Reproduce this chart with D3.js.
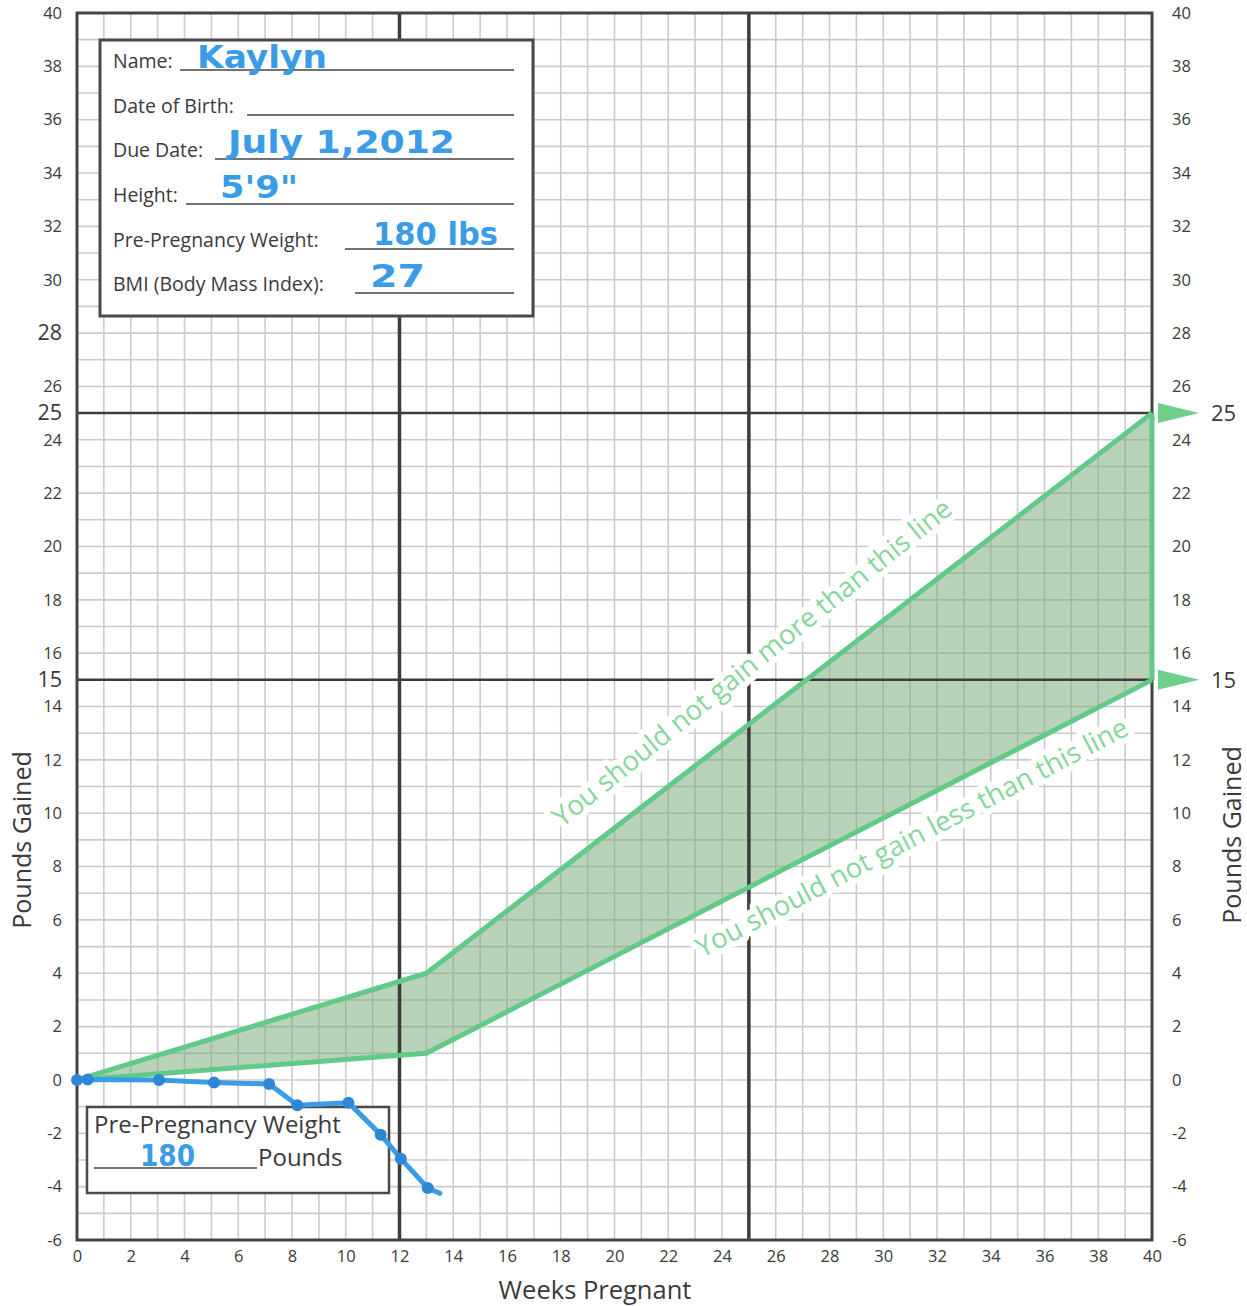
<!DOCTYPE html>
<html><head><meta charset="utf-8">
<script src="https://cdn.jsdelivr.net/npm/d3@7"></script>
<style>body{margin:0;background:#fff} svg{display:block}</style>
</head><body>
<svg id="c" width="1247" height="1306"></svg>
<script>
// ---- data ----
const weeks = [0, 0.4, 3.05, 5.1, 7.15, 8.2, 10.1, 11.3, 12.05, 13.05, 13.5];
const poundsGained = [0, 0.02, 0, -0.1, -0.15, -0.95, -0.85, -2.05, -2.95, -4.05, -4.25];
const guideWeeks = [0, 13, 40];
const upperLimit = [0, 4, 25];
const lowerLimit = [0, 1, 15];
const leftTicks = [40, 38, 36, 34, 32, 30, 28, 26, 25, 24, 22, 20, 18, 16, 15, 14, 12, 10, 8, 6, 4, 2, 0, -2, -4, -6];
const bigLeftTicks = [28, 25, 15];
const rightTicks = [40, 38, 36, 34, 32, 30, 28, 26, 24, 22, 20, 18, 16, 14, 12, 10, 8, 6, 4, 2, 0, -2, -4, -6];
const xTicks = [0, 2, 4, 6, 8, 10, 12, 14, 16, 18, 20, 22, 24, 26, 28, 30, 32, 34, 36, 38, 40];
const majorWeeks = [12, 25];
const majorPounds = [25, 15];
const targetMarkers = [25, 15];
const infoLabels = ["Name:", "Date of Birth:", "Due Date:", "Height:", "Pre-Pregnancy Weight:", "BMI (Body Mass Index):"];
const infoValues = ["Kaylyn", "", "July 1,2012", "5'9\"", "180 lbs", "27"];
const prePregWeight = "180";
const upperText = "You should not gain more than this line";
const lowerText = "You should not gain less than this line";

// ---- layout ----
const svg = d3.select("#c");
const FONT = "'Open Sans', 'Noto Sans', sans-serif";
const HAND = "'DejaVu Sans Condensed', 'DejaVu Sans', sans-serif";
const x = d3.scaleLinear().domain([0, 40]).range([77, 1152]);
const y = d3.scaleLinear().domain([-6, 40]).range([1240, 13]);
const txtCol = "#3a3a3a";
const green = "#62ca88";
const blue = "#3a9be6";
const fmt = d => String(d);

// minor grid
const g = svg.append("g");
g.selectAll("line.vx").data(d3.range(1, 40)).join("line")
  .attr("x1", d => x(d)).attr("x2", d => x(d)).attr("y1", y(40)).attr("y2", y(-6))
  .attr("stroke", "#cbcbcb").attr("stroke-width", 1.6);
g.selectAll("line.hy").data(d3.range(-5, 40)).join("line")
  .attr("y1", d => y(d)).attr("y2", d => y(d)).attr("x1", x(0)).attr("x2", x(40))
  .attr("stroke", "#cbcbcb").attr("stroke-width", 1.6);

// green band
const band = guideWeeks.map((w, i) => [x(w), y(upperLimit[i])])
  .concat(guideWeeks.map((w, i) => [x(w), y(lowerLimit[i])]).reverse());
svg.append("path").attr("d", "M" + band.join("L") + "Z")
  .attr("fill", "#74a676").attr("fill-opacity", 0.5);

// major lines
svg.selectAll("line.mx").data(majorWeeks).join("line")
  .attr("x1", d => x(d)).attr("x2", d => x(d)).attr("y1", y(40)).attr("y2", y(-6))
  .attr("stroke", "#3c3c3c").attr("stroke-width", 3.5);
svg.selectAll("line.my").data(majorPounds).join("line")
  .attr("y1", d => y(d)).attr("y2", d => y(d)).attr("x1", x(0)).attr("x2", x(40))
  .attr("stroke", "#3c3c3c").attr("stroke-width", 2.5);
// frame
svg.append("rect").attr("x", x(0)).attr("y", y(40)).attr("width", x(40) - x(0)).attr("height", y(-6) - y(40))
  .attr("fill", "none").attr("stroke", "#444").attr("stroke-width", 3);

// green limit lines
const lineGen = d3.line().x(d => x(d[0])).y(d => y(d[1]));
svg.append("path").datum(guideWeeks.map((w, i) => [w, upperLimit[i]]))
  .attr("d", lineGen).attr("fill", "none").attr("stroke", green).attr("stroke-width", 5).attr("stroke-linejoin", "round");
svg.append("path").datum(guideWeeks.map((w, i) => [w, lowerLimit[i]]))
  .attr("d", lineGen).attr("fill", "none").attr("stroke", green).attr("stroke-width", 5).attr("stroke-linejoin", "round");
svg.append("line").attr("x1", x(40)).attr("x2", x(40)).attr("y1", y(upperLimit[2])).attr("y2", y(lowerLimit[2]))
  .attr("stroke", green).attr("stroke-width", 5);

// rotated guide texts
function angleOf(a, b) {
  return Math.atan2(y(b[1]) - y(a[1]), x(b[0]) - x(a[0])) * 180 / Math.PI;
}
const upAng = angleOf([13, 4], [40, 25]) - 1.2;
const loAng = angleOf([13, 1], [40, 15]) - 0.4;
[[upperText, 562, 828, upAng], [lowerText, 702, 958, loAng]].forEach(([t, px, py, a]) => {
  svg.append("text").attr("transform", `translate(${px},${py}) rotate(${a})`)
    .attr("font-family", FONT).attr("font-size", 27.5).attr("fill", "#86d69d")
    .attr("stroke", "#fff").attr("stroke-width", 12).attr("stroke-linejoin", "round")
    .attr("paint-order", "stroke").text(t);
});

// axes
const yl = svg.append("g").attr("transform", `translate(${x(0)},0)`)
  .call(d3.axisLeft(y).tickValues(leftTicks).tickSize(0).tickPadding(15).tickFormat(fmt));
yl.select(".domain").remove();
yl.selectAll("text").attr("font-family", FONT).attr("fill", txtCol)
  .attr("font-size", d => bigLeftTicks.includes(d) ? 21.5 : 16.5);
const yr = svg.append("g").attr("transform", `translate(${x(40)},0)`)
  .call(d3.axisRight(y).tickValues(rightTicks).tickSize(0).tickPadding(20).tickFormat(fmt));
yr.select(".domain").remove();
yr.selectAll("text").attr("font-family", FONT).attr("fill", txtCol).attr("font-size", 16.5);
const xb = svg.append("g").attr("transform", `translate(0,${y(-6)})`)
  .call(d3.axisBottom(x).tickValues(xTicks).tickSize(0).tickPadding(10).tickFormat(fmt));
xb.select(".domain").remove();
xb.selectAll("text").attr("font-family", FONT).attr("fill", txtCol).attr("font-size", 16.5);

// target markers on right
const mk = svg.selectAll("g.mk").data(targetMarkers).join("g")
  .attr("transform", d => `translate(0,${y(d)})`);
mk.append("path").attr("d", "M1158,-10L1199,0L1158,10Z").attr("fill", "#6fcf8c");
mk.append("text").attr("x", 1211).attr("dy", "0.36em").attr("font-family", FONT)
  .attr("font-size", 22).attr("fill", txtCol).text(d => d);

// axis titles
svg.append("text").attr("transform", `translate(31,840) rotate(-90)`).attr("text-anchor", "middle")
  .attr("font-family", FONT).attr("font-size", 25).attr("fill", txtCol).text("Pounds Gained");
svg.append("text").attr("transform", `translate(1241,835) rotate(-90)`).attr("text-anchor", "middle")
  .attr("font-family", FONT).attr("font-size", 25).attr("fill", txtCol).text("Pounds Gained");
svg.append("text").attr("x", 595).attr("y", 1299).attr("text-anchor", "middle")
  .attr("font-family", FONT).attr("font-size", 25.5).attr("fill", txtCol).text("Weeks Pregnant");

// info box
const ib = svg.append("g");
ib.append("rect").attr("x", 100).attr("y", 40).attr("width", 433).attr("height", 276)
  .attr("fill", "#fff").attr("stroke", "#4a4a4a").attr("stroke-width", 3);
const rowY = [70, 115, 159, 204, 249, 293];
const lineStart = [180, 247, 215, 186, 345, 355];
const valX = [197, 0, 228, 220, 373, 370];
const valW = [130, 0, 227, 78, 125, 55];
const valY = [68, 0, 153, 198, 245, 287];
infoLabels.forEach((t, i) => {
  ib.append("text").attr("x", 113).attr("y", rowY[i] - 2).attr("font-family", FONT).attr("font-size", 19.5)
    .attr("fill", txtCol).text(t);
  ib.append("line").attr("x1", lineStart[i]).attr("x2", 514).attr("y1", rowY[i]).attr("y2", rowY[i])
    .attr("stroke", "#444").attr("stroke-width", 1.5);
  if (infoValues[i]) {
    ib.append("text").attr("x", valX[i]).attr("y", valY[i]).attr("font-family", HAND).attr("font-weight", "bold")
      .attr("font-size", 32).attr("fill", blue).attr("textLength", valW[i]).attr("lengthAdjust", "spacingAndGlyphs")
      .text(infoValues[i]);
  }
});

// pre-pregnancy weight box
const pb = svg.append("g");
pb.append("rect").attr("x", 87).attr("y", 1107).attr("width", 302).attr("height", 86)
  .attr("fill", "#fff").attr("stroke", "#4a4a4a").attr("stroke-width", 2.5);
pb.append("text").attr("x", 94).attr("y", 1133).attr("font-family", FONT).attr("font-size", 24)
  .attr("fill", txtCol).text("Pre-Pregnancy Weight");
pb.append("line").attr("x1", 94).attr("x2", 257).attr("y1", 1168).attr("y2", 1168)
  .attr("stroke", "#444").attr("stroke-width", 1.5);
pb.append("text").attr("x", 258).attr("y", 1166).attr("font-family", FONT).attr("font-size", 24)
  .attr("fill", txtCol).text("Pounds");
pb.append("text").attr("x", 140).attr("y", 1166).attr("font-family", HAND).attr("font-weight", "bold")
  .attr("font-size", 30).attr("fill", blue).attr("textLength", 55).attr("lengthAdjust", "spacingAndGlyphs")
  .text(prePregWeight);

// weight line
const pts = weeks.map((w, i) => [w, poundsGained[i]]);
svg.append("path").datum(pts).attr("d", lineGen).attr("fill", "none").attr("stroke", blue)
  .attr("stroke-width", 5).attr("stroke-linejoin", "round").attr("stroke-linecap", "round");
svg.selectAll("circle.pt").data(pts.slice(0, -1)).join("circle")
  .attr("cx", d => x(d[0])).attr("cy", d => y(d[1])).attr("r", 6).attr("fill", "#2f86d6");
</script>
</body></html>
